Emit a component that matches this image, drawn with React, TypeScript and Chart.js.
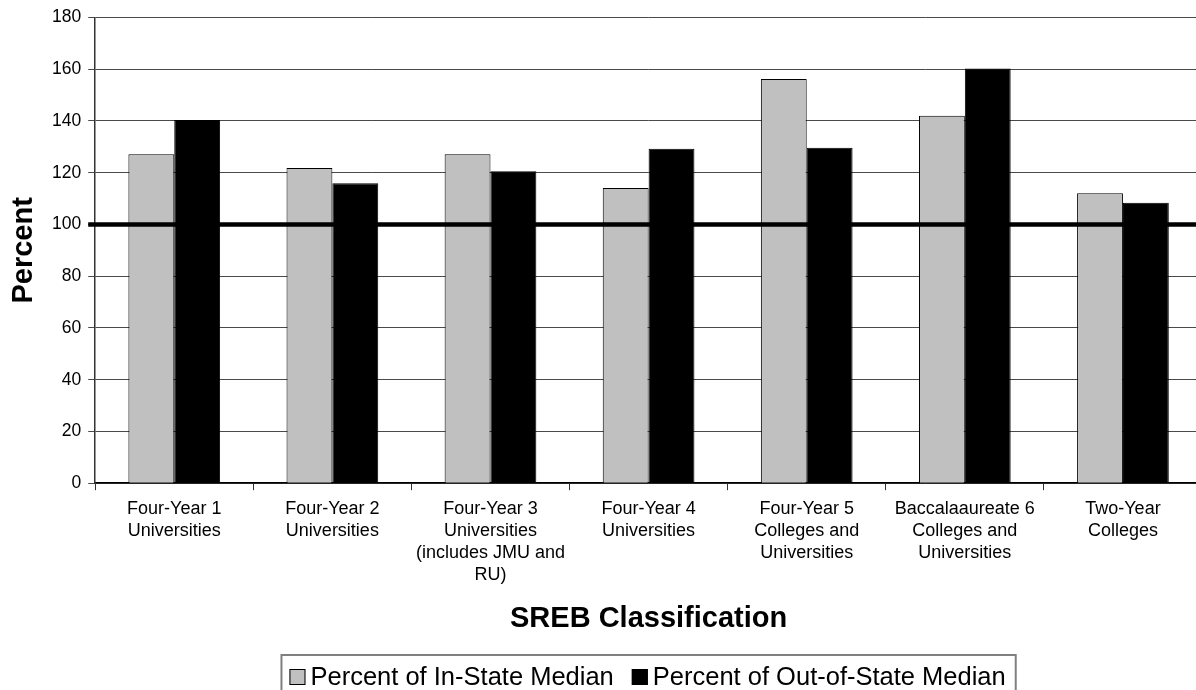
import React, { useEffect, useRef } from "react";
import { Chart, registerables } from "chart.js";

Chart.register(...registerables);

const categories: string[][] = [
  ["Four-Year 1", "Universities"],
  ["Four-Year 2", "Universities"],
  ["Four-Year 3", "Universities", "(includes JMU and", "RU)"],
  ["Four-Year 4", "Universities"],
  ["Four-Year 5", "Colleges and", "Universities"],
  ["Baccalaaureate 6", "Colleges and", "Universities"],
  ["Two-Year", "Colleges"],
];

const inStateLabel = "Percent of In-State Median";
const outStateLabel = "Percent of Out-of-State Median";
const inStateValues = [127.1, 121.8, 127.1, 114.1, 156.2, 142.0, 112.1];
const outStateValues = [140.4, 115.9, 120.6, 129.3, 129.7, 160.3, 108.4];

const yMin = 0;
const yMax = 180;
const yStep = 20;
const referenceValue = 100;

const xTitle = "SREB Classification";
const yTitle = "Percent";

const FONT = "'Liberation Sans', Arial, Helvetica, sans-serif";
const CANVAS_W = 1212;
const CANVAS_H = 700;

const refLinePlugin = {
  id: "refLine",
  afterDatasetsDraw(chart: any) {
    const { ctx, chartArea, scales } = chart;
    const y = scales.y.getPixelForValue(referenceValue);
    ctx.save();
    ctx.strokeStyle = "#000";
    ctx.lineWidth = 4.5;
    ctx.beginPath();
    ctx.moveTo(chartArea.left - 7, y);
    ctx.lineTo(chartArea.right, y);
    ctx.stroke();
    ctx.restore();
  },
};

const customLegendPlugin = {
  id: "customLegend",
  afterDraw(chart: any) {
    const { ctx, chartArea } = chart;
    const fontSize = 25.5;
    const sq = 16;
    const gapBoxText = 5;
    const itemGap = 18;
    const padL = 8;
    const padR = 10;
    ctx.save();
    ctx.font = `${fontSize}px ${FONT}`;
    const ds = chart.data.datasets;
    const widths = ds.map((d: any) => ctx.measureText(d.label).width);
    let total = padL + padR;
    widths.forEach((w: number, i: number) => {
      total += sq + gapBoxText + w + (i > 0 ? itemGap : 0);
    });
    const cx = (chartArea.left + chartArea.right) / 2;
    const left = cx - total / 2;
    const top = 655;
    const midY = 677;
    ctx.strokeStyle = "#808080";
    ctx.lineWidth = 2;
    ctx.strokeRect(left, top, total, 60);
    let x = left + padL;
    ds.forEach((d: any, i: number) => {
      if (i > 0) x += itemGap;
      ctx.fillStyle = d.backgroundColor;
      ctx.fillRect(x, midY - sq / 2, sq, sq);
      ctx.strokeStyle = "#000";
      ctx.lineWidth = 1;
      ctx.strokeRect(x + 0.5, midY - sq / 2 + 0.5, sq - 1, sq - 1);
      x += sq + gapBoxText;
      ctx.fillStyle = "#000";
      ctx.textBaseline = "middle";
      ctx.textAlign = "left";
      ctx.fillText(d.label, x, midY + 1);
      x += widths[i];
    });
    ctx.restore();
  },
};

export default function App() {
  const canvasRef = useRef<HTMLCanvasElement | null>(null);

  useEffect(() => {
    const canvas = canvasRef.current;
    if (!canvas) return;
    const chart = new Chart(canvas, {
      type: "bar",
      data: {
        labels: categories as any,
        datasets: [
          {
            label: inStateLabel,
            data: inStateValues,
            backgroundColor: "#c0c0c0",
            borderColor: "#000",
            borderWidth: 1,
            borderSkipped: "bottom",
            categoryPercentage: 0.58,
            barPercentage: 1.0,
          },
          {
            label: outStateLabel,
            data: outStateValues,
            backgroundColor: "#000000",
            borderColor: "#000",
            borderWidth: 1,
            borderSkipped: "bottom",
            categoryPercentage: 0.58,
            barPercentage: 1.0,
          },
        ],
      },
      options: {
        responsive: false,
        animation: false,
        devicePixelRatio: 1,
        layout: { padding: { top: 17, right: 10, bottom: 46, left: 0 } },
        plugins: {
          legend: { display: false },
          tooltip: { enabled: false },
          title: { display: false },
        },
        scales: {
          x: {
            grid: {
              display: true,
              drawOnChartArea: false,
              drawTicks: true,
              tickLength: 7,
              color: "#333",
              offset: true,
            },
            border: { display: true, color: "#000", width: 1.5 },
            ticks: {
              autoSkip: false,
              maxRotation: 0,
              minRotation: 0,
              padding: 8,
              color: "#000",
              font: { family: FONT, size: 18, lineHeight: 1.22 },
            },
            title: {
              display: true,
              text: xTitle,
              color: "#000",
              font: { family: FONT, size: 29, weight: "bold", lineHeight: 1.2 },
              padding: { top: 7.6, bottom: 17.6 },
            },
          },
          y: {
            min: yMin,
            max: yMax,
            ticks: {
              stepSize: yStep,
              padding: 7,
              color: "#000",
              font: { family: FONT, size: 17.5 },
            },
            grid: {
              color: "#4a4a4a",
              lineWidth: 1,
              tickLength: 7,
            },
            border: { display: true, color: "#333", width: 1.5 },
            title: {
              display: true,
              text: yTitle,
              color: "#000",
              font: { family: FONT, size: 29, weight: "bold", lineHeight: 1.2 },
              padding: { top: 7, bottom: 3.2 },
            },
          },
        },
      },
      plugins: [refLinePlugin, customLegendPlugin],
    });
    return () => chart.destroy();
  }, []);

  return (
    <div
      style={{
        position: "fixed",
        left: 0,
        top: 0,
        width: 1196,
        height: 690,
        overflow: "hidden",
        background: "#fff",
      }}
    >
      <canvas
        ref={canvasRef}
        width={CANVAS_W}
        height={CANVAS_H}
        style={{ width: CANVAS_W, height: CANVAS_H, display: "block" }}
      />
    </div>
  );
}
